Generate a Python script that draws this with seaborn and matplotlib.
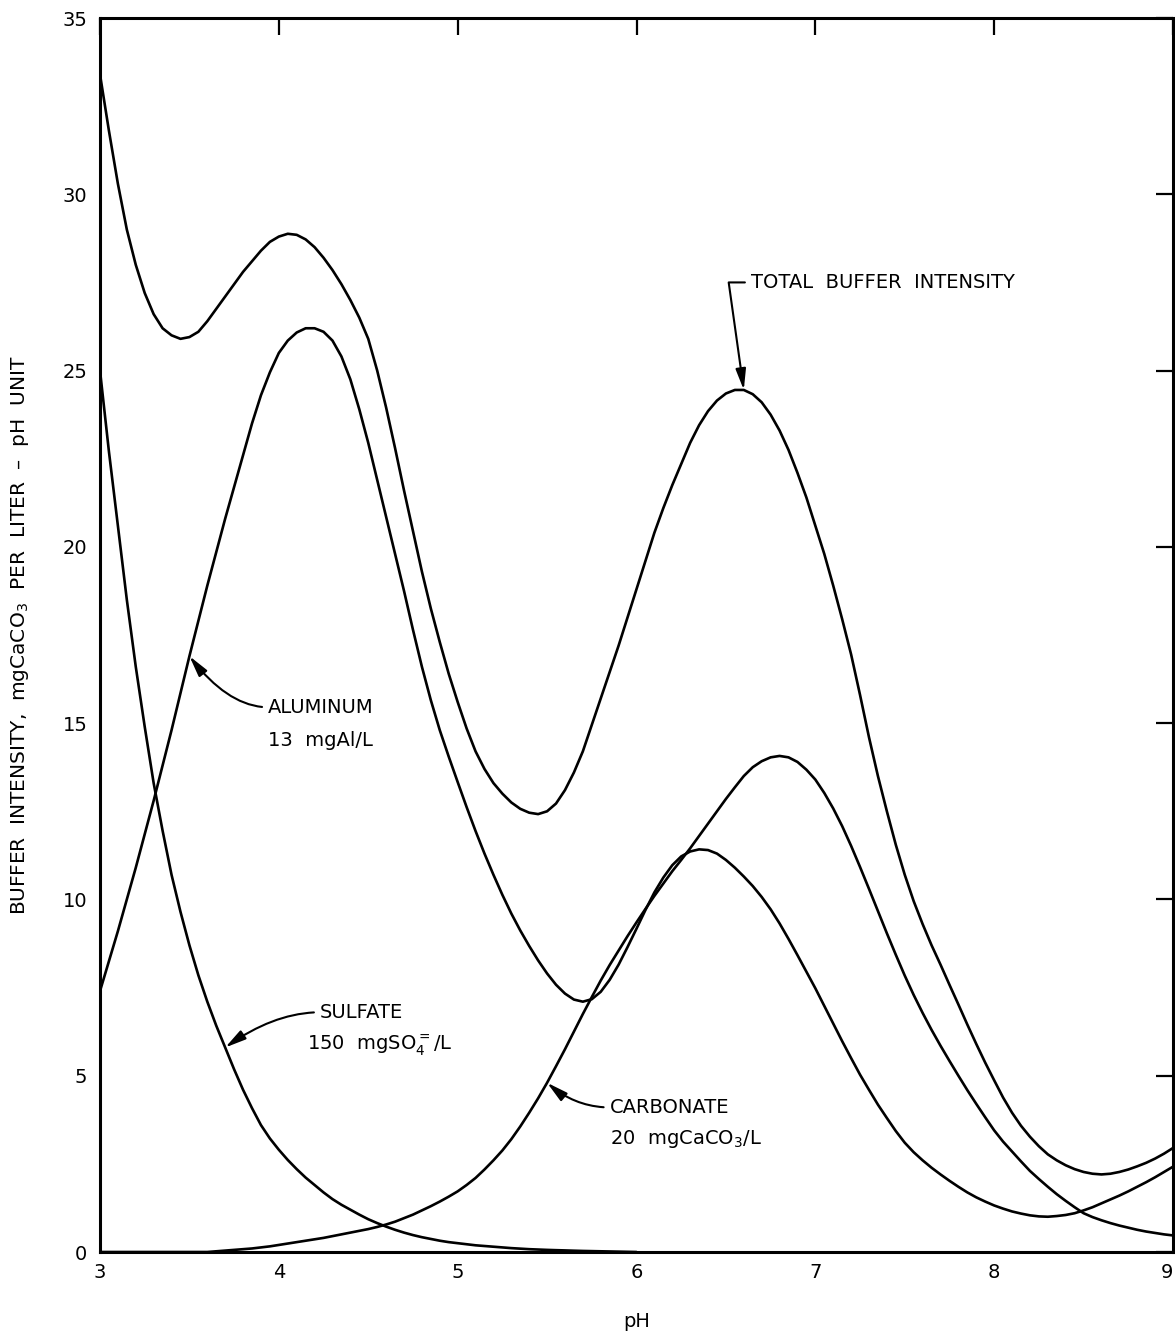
import numpy as np
import pandas as pd
import matplotlib
matplotlib.use("Agg")
import matplotlib.pyplot as plt
import seaborn as sns

# pH grid (0.05 steps from 3 to 9)
ph = np.round(np.arange(3.0, 9.0001, 0.05), 2)

total = [33.4, 31.8, 30.3, 29.0, 28.0, 27.2, 26.6, 26.2, 26.0, 25.9,
         25.95, 26.1, 26.4, 26.75, 27.1, 27.45, 27.8, 28.1, 28.4, 28.65,
         28.8, 28.88, 28.85, 28.72, 28.5, 28.2, 27.85, 27.45, 27.0, 26.5,
         25.9, 25.0, 23.95, 22.8, 21.6, 20.45, 19.3, 18.25, 17.3, 16.4,
         15.6, 14.85, 14.2, 13.7, 13.3, 13.0, 12.75, 12.57, 12.46, 12.42,
         12.5, 12.72, 13.1, 13.6, 14.2, 14.95, 15.7, 16.45, 17.2, 18.0,
         18.8, 19.6, 20.4, 21.1, 21.75, 22.35, 22.95, 23.45, 23.85, 24.15,
         24.35, 24.45, 24.45, 24.33, 24.1, 23.75, 23.3, 22.75, 22.1, 21.4,
         20.6, 19.8, 18.9, 17.95, 16.95, 15.8, 14.6, 13.5, 12.5, 11.55,
         10.7, 9.95, 9.3, 8.7, 8.15, 7.58, 7.02, 6.45, 5.9, 5.37,
         4.87, 4.38, 3.95, 3.58, 3.27, 3.0, 2.77, 2.6, 2.46, 2.35,
         2.27, 2.22, 2.2, 2.22, 2.27, 2.34, 2.43, 2.53, 2.65, 2.79,
         2.95]

aluminum = [7.4, 8.25, 9.1, 10.0, 10.9, 11.85, 12.8, 13.8, 14.8, 15.85,
            16.9, 17.9, 18.9, 19.85, 20.8, 21.7, 22.6, 23.5, 24.3, 24.95,
            25.5, 25.85, 26.08, 26.2, 26.2, 26.1, 25.85, 25.4, 24.75, 23.9,
            22.95, 21.9, 20.85, 19.8, 18.75, 17.65, 16.6, 15.65, 14.8, 14.05,
            13.33, 12.62, 11.94, 11.3, 10.7, 10.13, 9.6, 9.12, 8.68, 8.27,
            7.9, 7.58, 7.33, 7.16, 7.1, 7.17, 7.38, 7.72, 8.15, 8.65,
            9.17, 9.7, 10.2, 10.62, 10.97, 11.22, 11.36, 11.42, 11.4, 11.3,
            11.12, 10.9, 10.65, 10.38, 10.07, 9.72, 9.32, 8.88, 8.42, 7.95,
            7.48, 6.98, 6.48, 5.98, 5.5, 5.03, 4.6, 4.18, 3.8, 3.43,
            3.1, 2.83, 2.6, 2.39, 2.2, 2.02, 1.85, 1.69, 1.55, 1.43,
            1.32, 1.23, 1.15, 1.09, 1.04, 1.01, 1.0, 1.02, 1.05, 1.1,
            1.18, 1.27, 1.38, 1.49, 1.6, 1.72, 1.85, 1.98, 2.12, 2.27,
            2.42]

carbonate = [0.0, 0.0, 0.0, 0.0, 0.0, 0.0, 0.0, 0.0, 0.0, 0.0,
             0.0, 0.0, 0.0, 0.02, 0.04, 0.06, 0.08, 0.1, 0.13, 0.16,
             0.2, 0.24, 0.28, 0.32, 0.36, 0.4, 0.45, 0.5, 0.55, 0.6,
             0.65, 0.71, 0.78, 0.86, 0.96, 1.06, 1.18, 1.3, 1.43, 1.57,
             1.72, 1.9, 2.1, 2.34, 2.6, 2.88, 3.2, 3.56, 3.95, 4.36,
             4.8, 5.27, 5.75, 6.25, 6.75, 7.23, 7.7, 8.14, 8.55, 8.96,
             9.35, 9.73, 10.1, 10.45, 10.8, 11.12, 11.45, 11.8, 12.15, 12.5,
             12.85, 13.18, 13.5, 13.75, 13.92, 14.03, 14.07, 14.03, 13.9, 13.68,
             13.4, 13.02, 12.58, 12.08, 11.52, 10.92, 10.3, 9.67, 9.04, 8.43,
             7.84, 7.29, 6.78, 6.3, 5.85, 5.42, 5.0, 4.59, 4.2, 3.82,
             3.45, 3.13, 2.85, 2.57, 2.3, 2.07, 1.85, 1.64, 1.45, 1.27,
             1.1, 0.99, 0.9, 0.82, 0.75, 0.69, 0.63, 0.58, 0.54, 0.5,
             0.47]

# sulfate only contributes up to about pH 6
sulfate = [25.0, 22.7, 20.6, 18.5, 16.6, 14.9, 13.3, 11.95, 10.7, 9.65,
           8.7, 7.85, 7.1, 6.42, 5.8, 5.18, 4.6, 4.08, 3.6, 3.22,
           2.9, 2.61, 2.35, 2.11, 1.9, 1.69, 1.5, 1.34, 1.2, 1.06,
           0.93, 0.82, 0.72, 0.63, 0.55, 0.48, 0.42, 0.37, 0.32, 0.28,
           0.25, 0.22, 0.19, 0.17, 0.15, 0.13, 0.11, 0.095, 0.08, 0.07,
           0.06, 0.052, 0.045, 0.037, 0.03, 0.025, 0.02, 0.015, 0.01, 0.005,
           0.0]

x_ticks = [3, 4, 5, 6, 7, 8, 9]
y_ticks = [0, 5, 10, 15, 20, 25, 30, 35]

frames = [
    pd.DataFrame({"pH": ph, "beta": total, "series": "total"}),
    pd.DataFrame({"pH": ph, "beta": aluminum, "series": "aluminum"}),
    pd.DataFrame({"pH": ph, "beta": carbonate, "series": "carbonate"}),
    pd.DataFrame({"pH": ph[:len(sulfate)], "beta": sulfate, "series": "sulfate"}),
]
df = pd.concat(frames, ignore_index=True)

sns.set_theme(style="white")
plt.rcParams["font.family"] = ["DejaVu Sans"]
plt.rcParams["mathtext.fontset"] = "dejavusans"

fig = plt.figure(figsize=(11.75, 13.31), dpi=100)
ax = fig.add_axes([100 / 1175, 79 / 1331, 1073 / 1175, 1234 / 1331])

for name in ["total", "aluminum", "carbonate", "sulfate"]:
    sns.lineplot(data=df[df["series"] == name], x="pH", y="beta",
                 color="black", linewidth=1.9, estimator=None, sort=False,
                 ax=ax, legend=False)

ax.set_xlim(3, 9)
ax.set_ylim(0, 35)
ax.set_xticks(x_ticks)
ax.set_yticks(y_ticks)
ax.set_xticklabels([str(t) for t in x_ticks])
ax.set_yticklabels([str(t) for t in y_ticks])
ax.tick_params(axis="both", which="major", direction="in", length=12,
               width=1.6, color="black", labelsize=14, labelcolor="black",
               top=True, right=True, labeltop=False, labelright=False)
ax.tick_params(axis="x", pad=8)
ax.tick_params(axis="y", pad=9)
# keep the last pH label inside the figure edge
ax.get_xticklabels()[-1].set_horizontalalignment("right")
for s in ax.spines.values():
    s.set_visible(True)
    s.set_color("black")
    s.set_linewidth(2.2)

ax.set_xlabel("pH", fontsize=14, color="black")
ax.set_ylabel("BUFFER  INTENSITY,  mgCaCO$_3$  PER  LITER  \u2013  pH  UNIT",
              fontsize=14.5, color="black")
ax.xaxis.set_label_coords(0.5, -0.049)
ax.yaxis.set_label_coords(-0.064, 0.5)

arrow_kw = dict(arrowstyle="-|>,head_length=0.9,head_width=0.22",
                color="black", lw=1.5, mutation_scale=14,
                shrinkA=2, shrinkB=0)
text_kw = dict(fontsize=14, color="black", va="center", ha="left")

ax.annotate("TOTAL  BUFFER  INTENSITY", xy=(6.60, 24.45), xytext=(6.64, 27.5),
            arrowprops=dict(arrow_kw, relpos=(0, 0.5),
                            connectionstyle="angle,angleA=180,angleB=98,rad=0"),
            **text_kw)

ax.annotate("ALUMINUM", xy=(3.50, 16.9), xytext=(3.94, 15.45),
            arrowprops=dict(arrow_kw, relpos=(0, 0.5),
                            connectionstyle="angle3,angleA=180,angleB=-52"),
            **text_kw)
ax.text(3.94, 14.5, "13  mgAl/L", **text_kw)

ax.annotate("SULFATE", xy=(3.70, 5.8), xytext=(4.23, 6.8),
            arrowprops=dict(arrow_kw, relpos=(0, 0.5),
                            connectionstyle="angle3,angleA=180,angleB=35"),
            **text_kw)
ax.text(4.16, 5.85, "150  mgSO$_4^{=}$/L", **text_kw)

ax.annotate("CARBONATE", xy=(5.50, 4.8), xytext=(5.85, 4.1),
            arrowprops=dict(arrow_kw, relpos=(0, 0.5),
                            connectionstyle="angle3,angleA=180,angleB=-40"),
            **text_kw)
ax.text(5.85, 3.2, "20  mgCaCO$_3$/L", **text_kw)

fig.savefig("out.png", dpi=100, facecolor="white")
